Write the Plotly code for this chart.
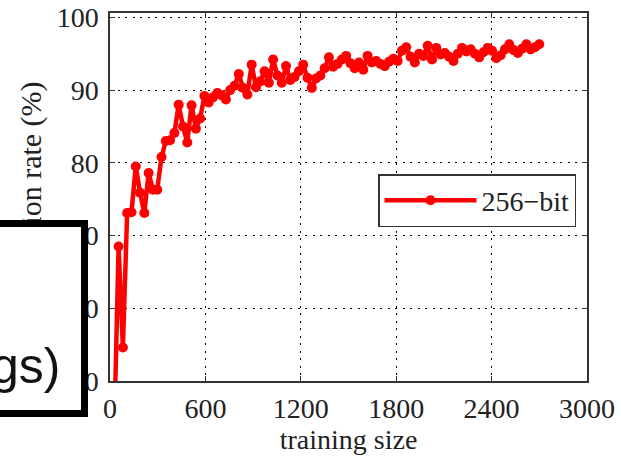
import plotly.graph_objects as go

# ---- data ----
training_size = [27 * k for k in range(1, 101)]
rate_256 = [
    43.5, 68.5, 54.6, 73.1, 73.2, 79.5, 75.9, 73.1, 78.6, 76.3,
    76.3, 80.8, 83.0, 83.1, 84.1, 88.0, 85.0, 82.8, 87.9, 84.7,
    86.1, 89.2, 88.3, 89.0, 89.6, 89.3, 88.7, 90.0, 90.6, 92.2,
    90.3, 89.4, 93.5, 90.4, 91.2, 92.6, 91.0, 94.2, 92.0, 91.0,
    93.3, 91.4, 91.8, 92.6, 93.5, 91.7, 90.3, 91.6, 92.0, 93.0,
    94.5, 93.2, 93.6, 94.2, 94.7, 93.7, 93.0, 93.8, 92.8, 94.7,
    93.8, 94.0, 93.6, 93.3, 93.9, 94.3, 94.0, 95.4, 95.9, 94.6,
    93.8, 95.0, 94.7, 96.1, 94.2, 95.8, 94.9, 95.1, 94.6, 94.0,
    95.0, 95.8, 95.3, 95.6, 95.0, 94.5, 95.2, 95.8, 95.4, 94.4,
    94.8, 95.6, 96.3, 95.5, 95.1, 95.7, 96.3, 95.6, 95.9, 96.3,
]
series_name = "256\u2212bit"
x_ticks = [0, 600, 1200, 1800, 2400, 3000]
y_ticks = [50, 60, 70, 80, 90, 100]
x_title = "training size"
y_title = "Recognition rate (%)"
box_text = "gs)"

SERIF = "Liberation Serif, Times New Roman, serif"
W, H = 621, 456
ML, MR, MT, MB = 110, 34, 13, 75
PW, PH = W - ML - MR, H - MT - MB


def px_x(p):
    return (p - ML) / PW


def px_y(p):
    return (H - MB - p) / PH


fig = go.Figure()
fig.add_trace(go.Scatter(
    x=training_size, y=rate_256, name=series_name, mode="lines+markers",
    line=dict(color="#ff0000", width=4.5),
    marker=dict(color="#ff0000", size=10),
))

axis_common = dict(
    showline=True, linecolor="#333333", linewidth=1.5, mirror="ticks",
    ticks="inside", ticklen=5, tickcolor="#333333", tickwidth=1,
    showgrid=True, gridcolor="#000000", gridwidth=1.2, griddash="2px,5.5px",
    zeroline=False, automargin=False,
    tickfont=dict(family=SERIF, size=28, color="#222222"),
)

fig.update_xaxes(range=[0, 3000], tickvals=x_ticks, ticklabelstandoff=2,
                 title=dict(text=x_title, font=dict(family=SERIF, size=28, color="#222222"), standoff=0),
                 **axis_common)
fig.update_yaxes(range=[50, 100.6], tickvals=y_ticks, ticklabelstandoff=4, **axis_common)

fig.update_layout(
    width=W, height=H,
    margin=dict(l=ML, r=MR, t=MT, b=MB, autoexpand=False),
    paper_bgcolor="white", plot_bgcolor="white",
    showlegend=True,
    legend=dict(
        x=px_x(576), xanchor="right", y=px_y(174), yanchor="top",
        bgcolor="white", bordercolor="#333333", borderwidth=1.5,
        font=dict(family=SERIF, size=28, color="#222222"),
        itemwidth=92, tracegroupgap=0,
    ),
    annotations=[
        dict(text=y_title, textangle=-90, xref="paper", yref="paper",
             x=px_x(31), y=px_y(79), xanchor="center", yanchor="top",
             showarrow=False, font=dict(family=SERIF, size=30, color="#222222")),
        dict(text=" ", xref="paper", yref="paper",
             x=px_x(88), y=px_y(220), xanchor="right", yanchor="top",
             showarrow=False, width=86, height=183, borderpad=0,
             bgcolor="white", bordercolor="#000000", borderwidth=7),
        dict(text=box_text, xref="paper", yref="paper",
             x=px_x(61), y=px_y(366), xanchor="right", yanchor="middle",
             showarrow=False, borderpad=0,
             font=dict(family="Liberation Sans, Arial, sans-serif", size=50, color="#111111")),
    ],
)

fig.write_html("out.html")
